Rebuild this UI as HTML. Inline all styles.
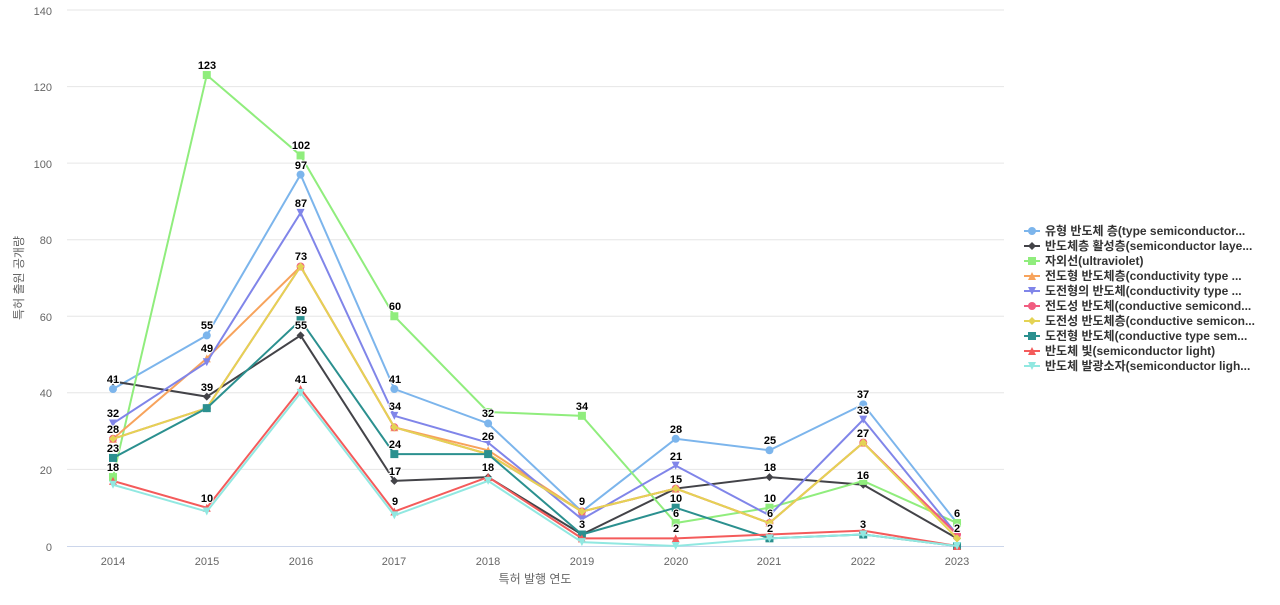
<!DOCTYPE html>
<html><head><meta charset="utf-8"><style>
body{margin:0;background:#fff;font-family:"Liberation Sans","Noto Sans CJK KR",sans-serif}
svg text{font-family:"Liberation Sans","Noto Sans CJK KR",sans-serif}
.dl{font-size:11px;font-weight:bold;fill:#000;text-anchor:middle;paint-order:stroke;stroke:#fff;stroke-width:2px}
.ax{font-size:11px;fill:#666}
.lg{font-size:12px;font-weight:bold;fill:#333}
</style></head><body>
<svg id="c" width="1280" height="600" xmlns="http://www.w3.org/2000/svg">
<g stroke="#e6e6e6" stroke-width="1">
<line x1="67" x2="1004" y1="10" y2="10"/><line x1="67" x2="1004" y1="86.6" y2="86.6"/><line x1="67" x2="1004" y1="163.1" y2="163.1"/><line x1="67" x2="1004" y1="239.7" y2="239.7"/><line x1="67" x2="1004" y1="316.3" y2="316.3"/><line x1="67" x2="1004" y1="392.8" y2="392.8"/><line x1="67" x2="1004" y1="469.4" y2="469.4"/>
</g>
<line x1="67" x2="1004" y1="546.5" y2="546.5" stroke="#ccd6eb"/>
<g class="ax" text-anchor="end">
<text x="52" y="15">140</text><text x="52" y="91">120</text><text x="52" y="168">100</text><text x="52" y="244">80</text><text x="52" y="321">60</text><text x="52" y="397">40</text><text x="52" y="474">20</text><text x="52" y="551">0</text>
</g>
<g class="ax" text-anchor="middle">
<text x="113" y="565">2014</text><text x="207" y="565">2015</text><text x="301" y="565">2016</text><text x="394" y="565">2017</text><text x="488" y="565">2018</text><text x="582" y="565">2019</text><text x="676" y="565">2020</text><text x="769" y="565">2021</text><text x="863" y="565">2022</text><text x="957" y="565">2023</text>
</g>
<text x="535" y="583" class="ax" style="font-size:12px" text-anchor="middle">특허 발행 연도</text>
<text transform="translate(23,278) rotate(-90)" class="ax" style="font-size:12px" text-anchor="middle">특허 출원 공개량</text>
<g id="series"></g>
<g class="dl">
<text x="113" y="383">41</text><text x="113" y="417">32</text><text x="113" y="433">28</text><text x="113" y="452">23</text><text x="113" y="471">18</text>
<text x="207" y="69">123</text><text x="207" y="329">55</text><text x="207" y="352">49</text><text x="207" y="391">39</text><text x="207" y="502">10</text>
<text x="301" y="149">102</text><text x="301" y="169">97</text><text x="301" y="207">87</text><text x="301" y="260">73</text><text x="301" y="314">59</text><text x="301" y="329">55</text><text x="301" y="383">41</text>
<text x="395" y="310">60</text><text x="395" y="383">41</text><text x="395" y="410">34</text><text x="395" y="448">24</text><text x="395" y="475">17</text><text x="395" y="505">9</text>
<text x="488" y="417">32</text><text x="488" y="440">26</text><text x="488" y="471">18</text>
<text x="582" y="410">34</text><text x="582" y="505">9</text><text x="582" y="528">3</text>
<text x="676" y="433">28</text><text x="676" y="460">21</text><text x="676" y="483">15</text><text x="676" y="502">10</text><text x="676" y="517">6</text><text x="676" y="532">2</text>
<text x="770" y="444">25</text><text x="770" y="471">18</text><text x="770" y="502">10</text><text x="770" y="517">6</text><text x="770" y="532">2</text>
<text x="863" y="398">37</text><text x="863" y="414">33</text><text x="863" y="437">27</text><text x="863" y="479">16</text><text x="863" y="528">3</text>
<text x="957" y="517">6</text><text x="957" y="532">2</text>
</g>
<g id="leg"></g>
<g class="lg">
<text x="1045" y="235">유형 반도체 층(type semiconductor...</text>
<text x="1045" y="250">반도체층 활성층(semiconductor laye...</text>
<text x="1045" y="265">자외선(ultraviolet)</text>
<text x="1045" y="280">전도형 반도체층(conductivity type ...</text>
<text x="1045" y="295">도전형의 반도체(conductivity type ...</text>
<text x="1045" y="310">전도성 반도체(conductive semicond...</text>
<text x="1045" y="325">도전성 반도체층(conductive semicon...</text>
<text x="1045" y="340">도전형 반도체(conductive type sem...</text>
<text x="1045" y="355">반도체 빛(semiconductor light)</text>
<text x="1045" y="370">반도체 발광소자(semiconductor ligh...</text>
</g>
</svg>
<script>
var S=[["#7cb5ec","c",[41,55,97,41,32,9,28,25,37,6]],
["#434348","d",[43,39,55,17,18,3,15,18,16,2]],
["#90ed7d","s",[18,123,102,60,35,34,6,10,17,6]],
["#f7a35c","t",[28,49,73,31,25,9,15,6,27,3]],
["#8085e9","v",[32,48,87,34,27,7,21,8,33,3]],
["#f15c80","c",[28,36,73,31,24,9,15,6,27,3]],
["#e4d354","d",[28,36,73,31,24,9,15,6,27,2]],
["#2b908f","s",[23,36,59,24,24,3,10,2,3,0]],
["#f45b5b","t",[17,10,41,9,18,2,2,3,4,0]],
["#91e8e1","v",[16,9,40,8,17,1,0,2,3,0]]];
function X(i){return 113+i*93.78}function Y(v){return 546-v*3.829}
function mk(t,x,y,c){if(t=="c")return '<circle cx="'+x+'" cy="'+y+'" r="4" fill="'+c+'"/>';
if(t=="s")return '<rect x="'+(x-4)+'" y="'+(y-4)+'" width="8" height="8" fill="'+c+'"/>';
if(t=="d")return '<path d="M'+x+' '+(y-4)+'L'+(x+4)+' '+y+'L'+x+' '+(y+4)+'L'+(x-4)+' '+y+'Z" fill="'+c+'"/>';
if(t=="t")return '<path d="M'+x+' '+(y-4)+'L'+(x+4)+' '+(y+4)+'L'+(x-4)+' '+(y+4)+'Z" fill="'+c+'"/>';
return '<path d="M'+x+' '+(y+4)+'L'+(x+4)+' '+(y-4)+'L'+(x-4)+' '+(y-4)+'Z" fill="'+c+'"/>';}
var h="",l="";
S.forEach(function(s,k){var p=s[2].map(function(v,i){return X(i)+","+Y(v)}).join(" ");
h+='<polyline points="'+p+'" fill="none" stroke="'+s[0]+'" stroke-width="2"/>';
s[2].forEach(function(v,i){h+=mk(s[1],X(i),Y(v),s[0])});
var ly=231+k*15;l+='<line x1="1024" x2="1040" y1="'+ly+'" y2="'+ly+'" stroke="'+s[0]+'" stroke-width="2"/>'+mk(s[1],1032,ly,s[0]);});
document.getElementById("series").innerHTML=h;document.getElementById("leg").innerHTML=l;
</script>
</body></html>
